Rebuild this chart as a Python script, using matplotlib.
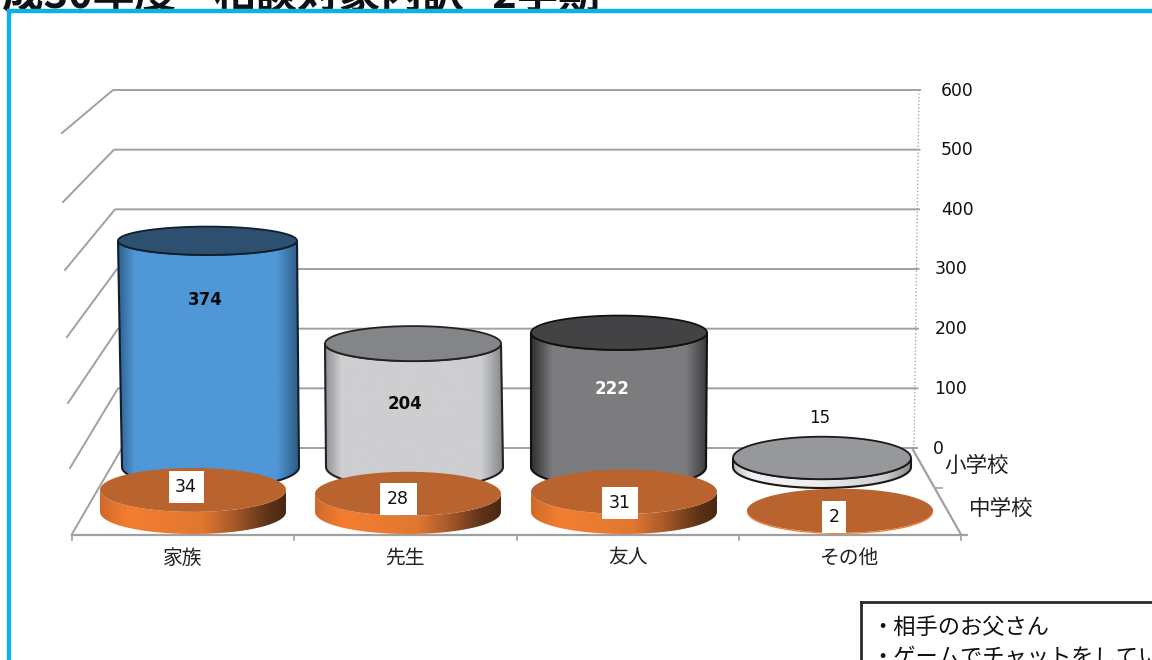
import numpy as np
import matplotlib
matplotlib.use("Agg")
import matplotlib.pyplot as plt
from matplotlib.patches import Polygon, Rectangle
from matplotlib.colors import LinearSegmentedColormap

# ---- data ----
categories = ["家族", "先生", "友人", "その他"]
series_names = ["小学校", "中学校"]
elementary = [374, 204, 222, 15]
junior_high = [34, 28, 31, 2]
value_ticks = [0, 100, 200, 300, 400, 500, 600]
title = "成30年度    相談対象内訳   2学期"
note_lines = ["・相手のお父さん", "・ゲームでチャットをしている"]

# ---- layout (pixel space of the picture) ----
W, H = 1152, 660
CJK = ["Noto Sans CJK JP", "DejaVu Sans"]
GRID = "#A0A0A0"
back_y0, back_k = 448.0, (448.0 - 90.0) / 600.0      # back wall value scale
back_base_y = 467.0
back_scale = 0.605
front_base_y = 512.0
front_scale = 0.65
back_cx_top = [207.5, 413, 619, 822]
back_cx_base = [210.5, 414.5, 618.5, 822]
back_rx_top = [89.5, 88, 88, 89]
back_rx_base = [88.5, 88.5, 87.5, 89]
front_cx = [193, 408, 624, 840]
front_rx, front_ry = 93.0, 22.0

fig = plt.figure(figsize=(W / 100, H / 100), dpi=100, facecolor="white")
ax = fig.add_axes([0, 0, 1, 1])
ax.set_xlim(0, W)
ax.set_ylim(H, 0)
ax.axis("off")


def val_y(v):
    return back_y0 - v * back_k


def gradient_side(xc0, rx0, y0, ry0, xc1, rx1, y1, ry1, stops, edge, z):
    """side of a cylinder: (xc0,y0) top ellipse, (xc1,y1) base ellipse"""
    t = np.linspace(0, np.pi, 80)
    low_x = xc1 - rx1 * np.cos(t)
    low_y = y1 + ry1 * np.sin(t)
    up_x = xc0 + rx0 * np.cos(t)
    up_y = y0 + ry0 * np.sin(t)
    pts = np.column_stack([np.r_[low_x, up_x], np.r_[low_y, up_y]])
    cmap = LinearSegmentedColormap.from_list("g", stops)
    x0, x1 = pts[:, 0].min(), pts[:, 0].max()
    y_a, y_b = pts[:, 1].min(), pts[:, 1].max()
    im = ax.imshow(np.linspace(0, 1, 256)[None, :], cmap=cmap, aspect="auto",
                   extent=(x0, x1, y_b, y_a), zorder=z, interpolation="bilinear")
    patch = Polygon(pts, closed=True, transform=ax.transData, fc="none",
                    ec=edge if edge else "none", lw=1.5 if edge else 0, zorder=z + 0.1)
    ax.add_patch(patch)
    im.set_clip_path(patch)


def ellipse(xc, yc, rx, ry, color, edge, z):
    t = np.linspace(0, 2 * np.pi, 160)
    ax.add_patch(Polygon(np.column_stack([xc + rx * np.cos(t), yc + ry * np.sin(t)]),
                         closed=True, fc=color, ec=edge if edge else "none",
                         lw=1.3 if edge else 0, zorder=z))


# ---- frame ----
ax.plot([8.5, 8.5, W], [H, 11, 11], color="#0FB0E6", lw=3.2, solid_joinstyle="miter", zorder=1)
ax.text(2, 7.5, title, fontsize=30, fontweight="bold", family=CJK, color="#111111",
        ha="left", va="baseline", zorder=0.5, clip_on=True)

# ---- walls and grid ----
left_x = [72, 70, 68, 67, 65, 63, 62]
left_y = [534, 468, 403, 337, 270, 202, 133]
corner_x = [122, 118, 118, 117, 115, 114, 113]
right_x = [917, 917.5, 918, 918.5, 919, 919.5, 920]
for i, v in enumerate(value_ticks):
    y = val_y(v)
    ax.plot([left_x[i], corner_x[i], right_x[i]], [left_y[i], y, y], color=GRID, lw=1.4, zorder=2)
    ax.text(957 if v >= 400 else (951 if v > 0 else 938), y + 0.5, str(v),
            fontsize=12.4, family="DejaVu Sans", color="#111111", ha="center", va="center", zorder=2)
ax.plot([919, 914], [val_y(600), val_y(0)], color="#A8A8A8", lw=1, ls=(0, (1, 1.5)), zorder=2)
ax.plot([72, 967], [534.5, 534.5], color=GRID, lw=1.6, zorder=2)
ax.plot([912, 961], [448, 534.5], color=GRID, lw=1.6, zorder=2)
ax.plot([936, 942], [488, 488], color=GRID, lw=1.2, zorder=2)
for k in range(5):
    xt = 72 + k * (961 - 72) / 4
    ax.plot([xt, xt], [534.5, 540], color=GRID, lw=1.2, zorder=2)
for k, c in enumerate(categories):
    ax.text(183 + k * 222.3, 558, c, fontsize=14.2, family=CJK, color="#222222",
            ha="center", va="center", zorder=2)
ax.text(976.5, 466, series_names[0], fontsize=15.5, family=CJK, color="#222222",
        ha="center", va="center", zorder=2)
ax.text(1001, 509, series_names[1], fontsize=15.5, family=CJK, color="#222222",
        ha="center", va="center", zorder=2)

# ---- back row: elementary school ----
back_styles = [
    ([(0, "#2F5F8C"), (0.09, "#4F97D6"), (0.88, "#4F97D6"), (1, "#2E5A82")], "#2E5070", "#0F1F2E"),
    ([(0, "#8F9094"), (0.09, "#CDCED0"), (0.88, "#CDCED0"), (1, "#85868A")], "#848589", "#222222"),
    ([(0, "#2F2F31"), (0.12, "#7C7C7F"), (0.88, "#7C7C7F"), (1, "#3A3A3C")], "#434345", "#111111"),
    ([(0, "#BDBDBD"), (0.1, "#F2F2F2"), (0.5, "#EDEDED"), (0.85, "#CFCFCF"), (1, "#8A8A8A")], "#97989C", "#1A1A1A"),
]
for i, v in enumerate(elementary):
    top_y = back_base_y - v * back_scale
    ry_top = 21.5 - v * 0.0197
    stops, top_c, edge = back_styles[i]
    z = 3 + i * 0.3
    gradient_side(back_cx_top[i], back_rx_top[i], top_y, ry_top,
                  back_cx_base[i], back_rx_base[i], back_base_y, 21, stops, edge, z)
    ellipse(back_cx_top[i], top_y, back_rx_top[i], ry_top, top_c, edge, z + 0.2)

# ---- front row: junior high school ----
orange = [(0, "#CF6A2A"), (0.15, "#F47D30"), (0.55, "#E07830"), (0.72, "#A8592A"), (0.9, "#5E3318"), (1, "#4A2812")]
orange_flat = [(0, "#F47D30"), (1, "#F47D30")]
for i, v in enumerate(junior_high):
    top_y = front_base_y - v * front_scale
    gradient_side(front_cx[i], front_rx, top_y, front_ry,
                  front_cx[i], front_rx, front_base_y, front_ry,
                  orange if v > 5 else orange_flat, None, 5 + i * 0.3)
    ellipse(front_cx[i], top_y, front_rx, front_ry, "#B9642F", None, 5.2 + i * 0.3)

# ---- value labels ----
back_lab_x = [205, 405, 612, 820]
back_lab_y = [300, 404, 389, 418]
back_lab_c = ["#0A0A0A", "#0A0A0A", "#FFFFFF", "#111111"]
for i, v in enumerate(elementary):
    ax.text(back_lab_x[i], back_lab_y[i], str(v), fontsize=12, family="DejaVu Sans",
            fontweight="bold" if i < 3 else "normal", color=back_lab_c[i],
            ha="center", va="center", zorder=8)
front_lab_x = [186, 398, 620, 834]
front_lab_y = [486.5, 499, 503, 516.5]
box_w = [35, 37, 36, 24]
for i, v in enumerate(junior_high):
    ax.add_patch(Rectangle((front_lab_x[i] - box_w[i] / 2, front_lab_y[i] - 16), box_w[i], 32,
                           fc="white", ec="none", zorder=8))
    ax.text(front_lab_x[i], front_lab_y[i], str(v), fontsize=12.5, family="DejaVu Sans",
            color="#111111", ha="center", va="center", zorder=9)

# ---- cut-off note box ----
ax.plot([861, 861], [H, 601.5], color="#2A2A2A", lw=2, zorder=10)
ax.plot([861, W], [601.5, 601.5], color="#2A2A2A", lw=2, zorder=10)
for line, y in zip(note_lines, [627, 657]):
    ax.text(871, y, line, fontsize=16, family=CJK, color="#111111", ha="left", va="center",
            zorder=10, clip_on=True)

ax.set_xlim(0, W)
ax.set_ylim(H, 0)
fig.savefig("out.png", dpi=100, facecolor="white")
